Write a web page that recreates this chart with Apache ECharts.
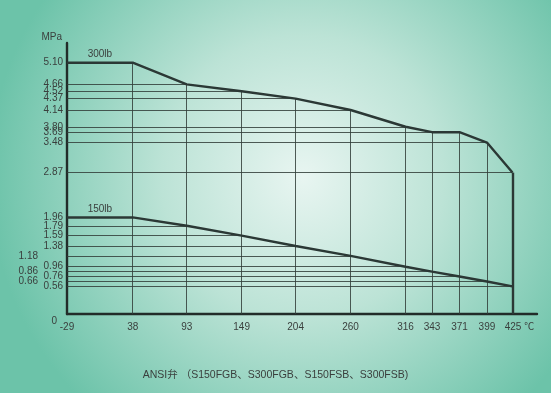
<!DOCTYPE html>
<html><head><meta charset="utf-8">
<script src="https://cdn.jsdelivr.net/npm/echarts@6/dist/echarts.min.js"></script>
<style>html,body{margin:0;padding:0;}#c{width:551px;height:393px;}</style>
</head><body><div id="c"></div>
<script>
const temps = [-29, 38, 93, 149, 204, 260, 316, 343, 371, 399, 425];
const p300 = [5.10, 5.10, 4.66, 4.52, 4.37, 4.14, 3.80, 3.69, 3.69, 3.48, 2.87];
const p150 = [1.96, 1.96, 1.79, 1.59, 1.38, 1.18, 0.96, 0.86, 0.76, 0.66, 0.56];
const xTicks = [-29, 38, 93, 149, 204, 260, 316, 343, 371, 399, 425];
const yTicks = [0, 0.56, 0.66, 0.76, 0.86, 0.96, 1.18, 1.38, 1.59, 1.79, 1.96, 2.87, 3.48, 3.69, 3.80, 4.14, 4.37, 4.52, 4.66, 5.10];
const shiftedY = [1.18, 0.86, 0.66];
const seriesNames = ['300lb', '150lb'];
const titleText = 'ANSI弁 （S150FGB、S300FGB、S150FSB、S300FSB)';

const FONT = "'Liberation Sans', Arial, 'Noto Sans CJK JP', sans-serif";
const TXT = '#3a3f3d';
const GRID = 'rgba(50,62,58,0.85)';
const CURVE = '#2b3835';
const FS = 10;

function hLines(vals) {
  const out = [];
  const seen = {};
  for (let i = 0; i < vals.length; i++) {
    const v = vals[i];
    let last = i;
    for (let j = i; j < vals.length; j++) if (vals[j] === v) last = j;
    if (seen[v] || v === vals[0]) { seen[v] = 1; continue; }
    seen[v] = 1;
    out.push([{ coord: [temps[0], v] }, { coord: [temps[last], v] }]);
  }
  return out;
}
function vLines() {
  const out = [];
  for (let i = 1; i < temps.length; i++) {
    const isLast = i === temps.length - 1;
    out.push([{ coord: [temps[i], 0], lineStyle: isLast ? { width: 2.4, color: CURVE } : undefined },
              { coord: [temps[i], p300[i]] }]);
  }
  return out;
}
function lblPoint(vals, name) {
  return { data: [{ coord: [(temps[0] + temps[1]) / 2, vals[0]], value: name }],
    symbol: 'circle', symbolSize: 0,
    label: { show: true, position: 'top', distance: 3, formatter: name, color: TXT, fontSize: FS, fontFamily: FONT } };
}

const chart = echarts.init(document.getElementById('c'), null, { renderer: 'canvas' });
chart.setOption({
  backgroundColor: {
    type: 'radial', x: 0.55, y: 0.45, r: 0.8,
    colorStops: [{ offset: 0, color: '#e8f5f1' }, { offset: 0.45, color: '#bce3d6' }, { offset: 1, color: '#6cc3a9' }]
  },
  animation: false,
  title: {
    text: titleText, left: 'center', top: 365,
    textStyle: { fontSize: 10.5, fontWeight: 'normal', color: TXT, fontFamily: FONT }
  },
  grid: { left: 67, right: 14, top: 43, bottom: 79 },
  xAxis: {
    type: 'value', min: -29, max: 450,
    splitLine: { show: false },
    axisLine: { show: true, onZero: false, lineStyle: { color: '#222c29', width: 2.4 } },
    axisTick: { show: false },
    axisLabel: {
      customValues: xTicks, margin: 8, color: TXT, fontSize: FS, fontFamily: FONT,
      formatter: v => v === 425 ? '{t|425 ℃}' : String(v),
      rich: { t: { padding: [0, 0, 0, 14], color: TXT, fontSize: FS, fontFamily: FONT } }
    }
  },
  yAxis: {
    type: 'value', min: 0, max: 5.5,
    name: 'MPa', nameLocation: 'end', nameGap: 1,
    nameTextStyle: { color: TXT, fontSize: FS, fontFamily: FONT, align: 'right', padding: [0, 5, 0, 0] },
    splitLine: { show: false },
    axisLine: { show: true, onZero: false, lineStyle: { color: '#222c29', width: 2.4 } },
    axisTick: { show: false },
    axisLabel: {
      customValues: yTicks, margin: 4, color: TXT, fontSize: FS, fontFamily: FONT,
      formatter: v => {
        if (v === 0) return '{z|0}';
        const s = v.toFixed(2);
        return shiftedY.indexOf(v) >= 0 ? '{s|' + s + '}' : s;
      },
      rich: {
        s: { padding: [0, 25, 0, 0], color: TXT, fontSize: FS, fontFamily: FONT },
        z: { padding: [14, 6, 0, 0], color: TXT, fontSize: FS, fontFamily: FONT }
      }
    }
  },
  series: [
    {
      name: seriesNames[0], type: 'line', symbol: 'none',
      data: temps.map((t, i) => [t, p300[i]]),
      lineStyle: { color: CURVE, width: 2.4 },
      markLine: {
        silent: true, symbol: 'none', label: { show: false },
        lineStyle: { color: GRID, width: 1, type: 'solid' },
        data: hLines(p300).concat(vLines())
      },
      markPoint: lblPoint(p300, seriesNames[0]),
      z: 5
    },
    {
      name: seriesNames[1], type: 'line', symbol: 'none',
      data: temps.map((t, i) => [t, p150[i]]),
      lineStyle: { color: CURVE, width: 2.4 },
      markLine: {
        silent: true, symbol: 'none', label: { show: false },
        lineStyle: { color: GRID, width: 1, type: 'solid' },
        data: hLines(p150)
      },
      markPoint: lblPoint(p150, seriesNames[1]),
      z: 5
    }
  ]
});
</script></body></html>
